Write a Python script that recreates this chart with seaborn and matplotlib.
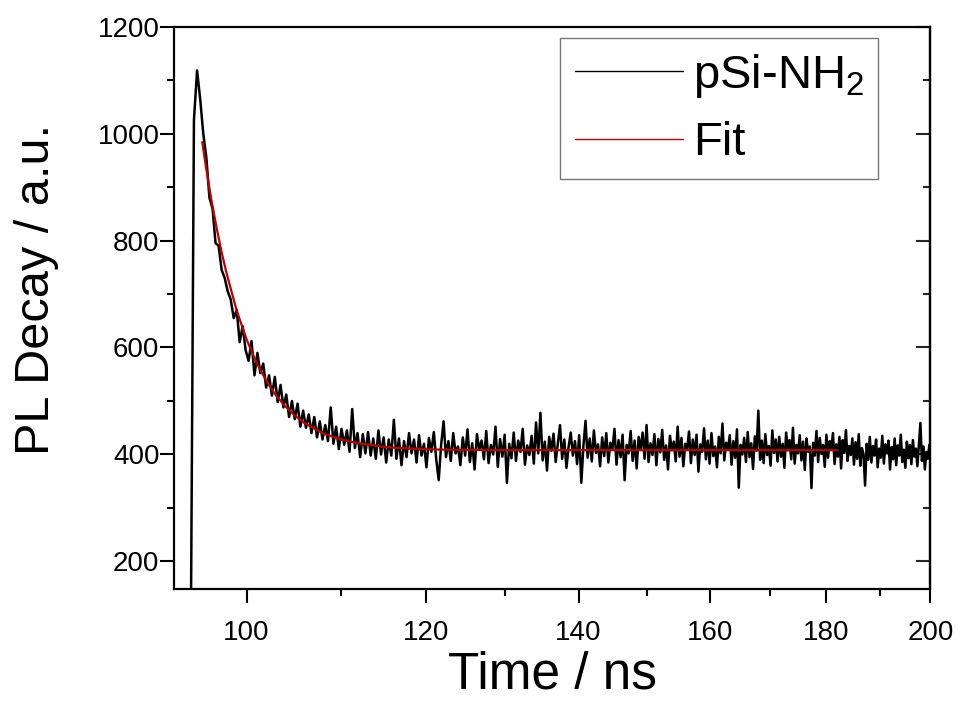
import numpy as np
import pandas as pd
import matplotlib
matplotlib.use("Agg")
import matplotlib.pyplot as plt
import seaborn as sns
from matplotlib.ticker import FixedLocator, FixedFormatter, NullFormatter

# ------------------------------------------------------------
# Data
# ------------------------------------------------------------
# measured PL decay, sampled every time_step ns from time_start
time_start = 92.1
time_step = 0.3
pl_counts = [
    30, 45, 38, 52, 41, 35, 48, 44, 60,
    1025, 1118, 1065, 1000, 955, 880, 860, 795, 790, 745,
    730, 705, 690, 655, 670, 610, 640, 595, 575, 612,
    548, 590, 552, 570, 525, 548, 510, 545, 498, 530,
    488, 512, 470, 500, 466, 495, 452, 482, 450, 475,
    440, 470, 432, 462, 428, 455, 425, 488, 420, 452,
    410, 448, 418, 445, 405, 485, 412, 440, 395, 438,
    402, 442, 398, 430, 392, 445, 400, 432, 385, 428,
    398, 465, 392, 430, 380, 425, 395, 440,
    402, 428, 385, 436, 398, 420, 376, 431, 405, 442,
    390, 352, 418, 462, 395, 425, 388, 440, 402, 415,
    380, 432, 398, 447, 386, 421, 372, 438, 409, 426,
    391, 444, 384, 418, 400, 452, 377, 429, 396, 437,
    347, 420, 393, 441, 388, 426, 405, 448, 381, 417,
    399, 435, 383, 460, 402, 478, 389, 424, 370, 433,
    407, 439, 386, 421, 455, 392, 428, 375, 414, 441,
    398, 425, 382, 436, 347, 416, 463, 394, 430, 387,
    445, 403, 419, 378, 432, 397, 440, 385, 422, 410,
    448, 381, 427, 395, 437, 352, 418, 402, 444, 388,
    426, 374, 433, 409, 441, 392, 455, 386, 421, 399,
    438, 380, 429, 404, 446, 390, 417, 372, 435, 408,
    424, 387, 452, 396, 431, 378, 420, 411, 443, 384,
    428, 399, 437, 368, 419, 405, 449, 391, 426, 383,
    440, 397, 415, 376, 433, 402, 458, 389, 422, 410,
    436, 381, 425, 394, 447, 338, 418, 400, 431, 386,
    442, 395, 421, 373, 434, 407, 482, 390, 426, 384,
    438, 399, 416, 379, 445, 403, 428, 387, 433, 396,
    420, 375, 441, 408, 427, 391, 450, 383, 418, 402,
    436, 389, 424, 371, 430, 405, 415, 337, 422, 398,
    444, 386, 431, 401, 418, 377, 437, 394, 425, 409,
    440, 382, 419, 396, 433, 374, 427, 403, 446, 388,
    416, 399, 430, 381, 423, 392, 438, 379, 412, 401,
    342, 420, 390, 433, 385, 416, 398, 428, 376, 411,
    394, 435, 383, 419, 402, 426, 372, 414, 391, 430,
    380, 417, 398, 437, 386, 409, 375, 424, 393, 418,
    382, 427, 396, 411, 378, 420, 459, 388, 415, 372,
    405, 392, 418, 397,
]

# exponential fit curve
fit_time = [95.6, 96.0, 96.5, 97.0, 97.5, 98.0, 99.0, 100.0, 101.0, 102.0,
            103.0, 104.0, 105.0, 106.0, 108.0, 110.0, 112.0, 115.0, 118.0,
            122.0, 130.0, 150.0, 182.0]
fit_counts = [984, 933, 875, 824, 778, 738, 669, 615, 572, 538,
              511, 490, 473, 459, 440, 428, 421, 414, 411,
              409, 408, 408, 408]

x_major = [100, 120, 140, 160, 180, 200]
x_minor = [110, 130, 150, 170, 190]
y_major = [200, 400, 600, 800, 1000, 1200]
y_minor = [300, 500, 700, 900, 1100]

# ------------------------------------------------------------
# Plot
# ------------------------------------------------------------
sns.set_style("ticks")
plt.rcParams['font.family'] = ['Liberation Sans', 'DejaVu Sans']
plt.rcParams['mathtext.fontset'] = 'custom'
plt.rcParams['mathtext.rm'] = 'Liberation Sans'
plt.rcParams['text.color'] = 'black'
plt.rcParams['axes.labelcolor'] = 'black'

pl_time = np.round(time_start + time_step * np.arange(len(pl_counts)), 2)
df_pl = pd.DataFrame({"time": pl_time, "counts": pl_counts})
df_fit = pd.DataFrame({"time": fit_time, "counts": fit_counts})

fig = plt.figure(figsize=(9.58, 7.05), dpi=100)
ax = fig.add_axes([0.1816, 0.1641, 0.7895, 0.7983])

sns.lineplot(data=df_pl, x="time", y="counts", ax=ax, color="black",
             linewidth=1.8, estimator=None, sort=False, label="pSi-NH$_2$")
sns.lineplot(data=df_fit, x="time", y="counts", ax=ax, color="#BE0000",
             linewidth=1.6, estimator=None, sort=False, label="Fit")

ax.set_xscale("log")
ax.set_xlim(92.9, 200)
ax.set_ylim(148, 1200)

ax.xaxis.set_major_locator(FixedLocator(x_major))
ax.xaxis.set_major_formatter(FixedFormatter([str(v) for v in x_major]))
ax.xaxis.set_minor_locator(FixedLocator(x_minor))
ax.xaxis.set_minor_formatter(NullFormatter())
ax.yaxis.set_major_locator(FixedLocator(y_major))
ax.yaxis.set_minor_locator(FixedLocator(y_minor))

ax.tick_params(axis="x", which="major", direction="out", length=10, width=1.5,
               labelsize=20, pad=12, top=False, colors="black")
ax.tick_params(axis="x", which="minor", direction="out", length=5, width=1.5,
               top=False, colors="black")
ax.tick_params(axis="y", which="major", direction="out", length=10, width=1.5,
               labelsize=20, pad=0.5, colors="black")
ax.tick_params(axis="y", which="minor", direction="out", length=5, width=1.5,
               colors="black")

for side in ["left", "right", "top", "bottom"]:
    ax.spines[side].set_visible(True)
    ax.spines[side].set_linewidth(1.6)
    ax.spines[side].set_color("black")

# mirrored inward ticks on the right spine
ax_r = ax.secondary_yaxis("right")
ax_r.yaxis.set_major_locator(FixedLocator(y_major))
ax_r.yaxis.set_minor_locator(FixedLocator(y_minor))
ax_r.tick_params(which="major", direction="in", length=10, width=1.5, labelright=False)
ax_r.tick_params(which="minor", direction="in", length=5, width=1.5)
ax_r.spines["right"].set_linewidth(1.6)

ax.set_xlabel("Time / ns", fontsize=37)
ax.set_ylabel("PL Decay / a.u.", fontsize=35)
ax.xaxis.set_label_coords(0.5, -0.108)
ax.yaxis.set_label_coords(-0.152, 0.532)

leg = ax.legend(loc="upper right", bbox_to_anchor=(0.931, 0.98), fontsize=34,
                frameon=True, fancybox=False, edgecolor="#555555",
                handlelength=2.3, handletextpad=0.2, borderpad=0.3,
                labelspacing=0.45, borderaxespad=0)
leg.get_frame().set_linewidth(1.0)
for line in leg.get_lines():
    line.set_linewidth(1.0)

fig.savefig("out.png", dpi=100)
